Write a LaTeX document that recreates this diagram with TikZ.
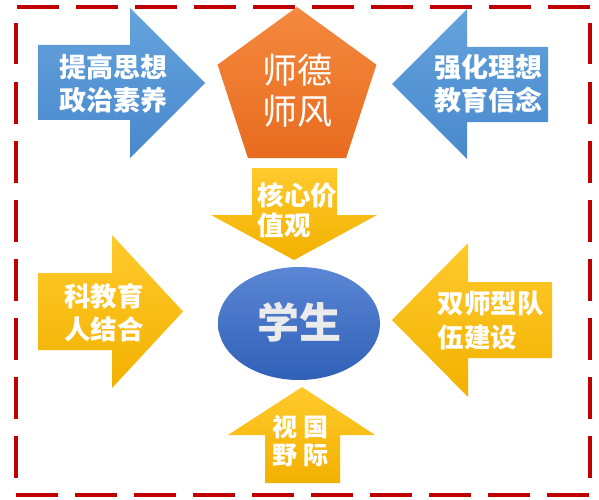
\documentclass[tikz,border=0pt]{standalone}
\usepackage{fontspec}
\setmainfont{Noto Sans CJK SC}
\usetikzlibrary{positioning,shapes.geometric}
\definecolor{frameRed}{HTML}{C00000}
\definecolor{blueTop}{HTML}{65A3DD}
\definecolor{blueBot}{HTML}{4888CD}
\definecolor{goldTop}{HTML}{FFCA2C}
\definecolor{goldBot}{HTML}{F2B100}
\definecolor{orangeTop}{HTML}{F4893F}
\definecolor{orangeBot}{HTML}{E86C1F}
\definecolor{ovalTop}{HTML}{5B86D5}
\definecolor{ovalBot}{HTML}{3060B7}

\begin{document}
\begin{tikzpicture}
                [%%%%%%%%%%%%%%%%%%%%%%%%%%%%%%%%%%%%%%%%%%%%%%%%%%%%%%%%%%
                    x=1pt,y=-1pt,
                    frame/.style={draw=frameRed,line width=4.5pt,dash pattern=on 41.5pt off 17.5pt},
                    bluearrow/.style={top color=blueTop,bottom color=blueBot},
                    goldarrow/.style={top color=goldTop,bottom color=goldBot},
                    word/.style={text=white,font=\bfseries\fontsize{27}{33}\selectfont,inner sep=0pt},
                    goldword/.style={word,font=\bfseries\fontsize{26.5}{32}\selectfont}
                ]%%%%%%%%%%%%%%%%%%%%%%%%%%%%%%%%%%%%%%%%%%%%%%%%%%%%%%%%%%
                \useasboundingbox (0,0) rectangle (599,500);

                % dashed frame
                \draw[frame] (17,7) -- (590,7);
                \draw[frame] (16,495) -- (590,495);
                \draw[frame] (16,23) -- (16,478);
                \draw[frame] (590,23) -- (590,478);

                % arrows
                \path[bluearrow] (38,45) -- (130,45) -- (130,8) -- (205,83) -- (130,158) -- (130,120) -- (38,120) -- cycle;
                \path[bluearrow] (548,47) -- (467,47) -- (467,9) -- (392,84) -- (467,159) -- (467,122) -- (548,122) -- cycle;
                \path[goldarrow] (252,168) -- (337,168) -- (337,215) -- (377,215) -- (294,260) -- (211,215) -- (252,215) -- cycle;
                \path[goldarrow] (38,273) -- (112,273) -- (112,235) -- (183,311.5) -- (112,388) -- (112,350) -- (38,350) -- cycle;
                \path[goldarrow] (552,282) -- (468,282) -- (468,243) -- (392,320) -- (468,397) -- (468,358) -- (552,358) -- cycle;
                \path[goldarrow] (265,483) -- (265,435) -- (228,435) -- (302,387) -- (375,435) -- (340,435) -- (340,483) -- cycle;

                \node[regular polygon,regular polygon sides=5,minimum size=167pt,inner sep=0pt,
                      top color=orangeTop,bottom color=orangeBot,text=white,align=center,
                      font=\fontsize{35}{40}\selectfont] (ethic) at (297,90.5) {\raisebox{-3pt}{\shortstack{师德\\[6pt]师风}}};
                \node[ellipse,minimum width=162pt,minimum height=113pt,inner sep=0pt,
                      top color=ovalTop,bottom color=ovalBot,text=white!92!black,
                      font=\bfseries\fontsize{42}{42}\selectfont] (student) at (299,323.5) {\raisebox{6pt}{学生}};

                \node[word,align=center] (thought) at (113.5,83.5) {提高思想\\政治素养};
                \node[word,align=center] (ideal) at (488.5,83.5) {强化理想\\教育信念};
                \node[goldword,align=left,font=\bfseries\fontsize{26.5}{30}\selectfont] (value) at (297.5,210.5) {核心价\\值观};
                \node[goldword,align=center,font=\bfseries\fontsize{26.5}{33}\selectfont] (combine) at (104,312.5) {科教育\\人结合};
                \node[goldword,align=left,font=\bfseries\fontsize{26.5}{34}\selectfont] (team) at (490.5,320.5) {双师型队\\伍建设};
                \node[goldword,align=center,font=\bfseries\fontsize{25}{28}\selectfont] (vision) at (300,441) {视\hspace{6pt}国\\野\hspace{6pt}际};
            \end{tikzpicture}
\end{document}
